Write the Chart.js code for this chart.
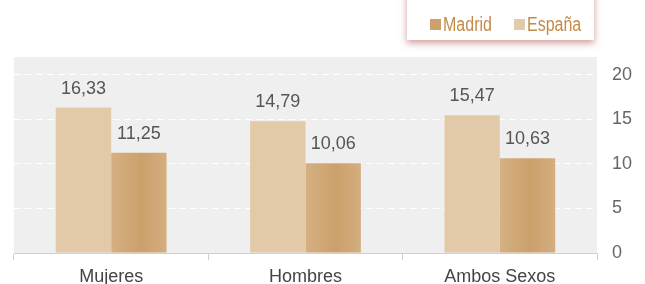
<!DOCTYPE html>
<html>
<head>
<meta charset="utf-8">
<script src="https://cdn.jsdelivr.net/npm/chart.js@4/dist/chart.umd.min.js"></script>
<style>
  html, body { margin: 0; padding: 0; background: #fff; }
  #wrap { width: 645px; height: 284px; position: relative; }
</style>
</head>
<body>
<div id="wrap"><canvas id="chart"></canvas></div>
<script>
// data
const categories = ['Mujeres', 'Hombres', 'Ambos Sexos'];
const espana = [16.33, 14.79, 15.47];
const madrid = [11.25, 10.06, 10.63];
const yTicks = [0, 5, 10, 15, 20];

const FONT = '"Helvetica Neue", Helvetica, "Liberation Sans", Arial, sans-serif';

function fmt(v) {
  return v.toFixed(2).replace('.', ',');
}

// grey panel behind the plot
const panelBg = {
  id: 'panelBg',
  beforeDraw(chart) {
    const a = chart.chartArea;
    const ctx = chart.ctx;
    ctx.save();
    ctx.fillStyle = '#efefef';
    ctx.fillRect(a.left, a.top, a.right - a.left, a.bottom - a.top);
    ctx.restore();
  }
};

// legend box at the top right, with its shadow
const legendBox = {
  id: 'legendBox',
  afterDraw(chart) {
    const ctx = chart.ctx;
    ctx.save();
    ctx.shadowColor = 'rgba(170, 70, 70, 0.55)';
    ctx.shadowBlur = 7;
    ctx.shadowOffsetY = 3;
    ctx.fillStyle = '#fff';
    ctx.fillRect(407, -10, 187, 50);
    ctx.restore();

    const items = [
      { label: 'Madrid', color: '#cda06c', x: 430 },
      { label: 'España', color: '#e3cba9', x: 514 }
    ];
    ctx.save();
    ctx.font = '20px ' + FONT;
    ctx.textBaseline = 'middle';
    items.forEach(it => {
      ctx.fillStyle = it.color;
      ctx.fillRect(it.x, 19, 11, 11);
      ctx.fillStyle = '#c48a47';
      // condensed look
      ctx.save();
      ctx.translate(it.x + 13, 25);
      ctx.scale(0.8, 1);
      ctx.fillText(it.label, 0, 0);
      ctx.restore();
    });
    ctx.restore();
  }
};

// gradient on the Madrid bars and value labels
const barExtras = {
  id: 'barExtras',
  beforeDatasetsDraw(chart) {
    const ctx = chart.ctx;
    chart.getDatasetMeta(1).data.forEach(el => {
      const x0 = el.x - el.width / 2;
      const g = ctx.createLinearGradient(x0, 0, x0 + el.width, 0);
      g.addColorStop(0, '#d5b083');
      g.addColorStop(0.55, '#cba06b');
      g.addColorStop(1, '#d4ae80');
      el.options = Object.assign({}, el.options, { backgroundColor: g });
    });
  },
  afterDatasetsDraw(chart) {
    const ctx = chart.ctx;
    ctx.save();
    ctx.font = '18px ' + FONT;
    ctx.fillStyle = '#555';
    ctx.textAlign = 'center';
    ctx.textBaseline = 'alphabetic';
    chart.data.datasets.forEach((ds, i) => {
      chart.getDatasetMeta(i).data.forEach((el, j) => {
        ctx.fillText(fmt(ds.data[j]), el.x, el.y - 14);
      });
    });
    ctx.restore();
  }
};

new Chart(document.getElementById('chart'), {
  type: 'bar',
  data: {
    labels: categories,
    datasets: [
      { label: 'España', data: espana, backgroundColor: '#e2caa9' },
      { label: 'Madrid', data: madrid, backgroundColor: '#cda06c' }
    ]
  },
  options: {
    responsive: true,
    maintainAspectRatio: false,
    animation: false,
    categoryPercentage: 0.57,
    barPercentage: 1,
    layout: { padding: { top: 57, left: 14, right: 0, bottom: 0 } },
    plugins: {
      legend: { display: false },
      tooltip: { enabled: false }
    },
    scales: {
      x: {
        afterFit(scale) {
          scale.height = 31;
        },
        grid: {
          offset: true,
          drawOnChartArea: false,
          drawTicks: true,
          tickLength: 7,
          color: '#cfcfcf'
        },
        border: { display: true, color: '#cfcfcf' },
        ticks: {
          color: '#444',
          font: { size: 18, family: FONT },
          padding: 6
        }
      },
      y: {
        position: 'right',
        min: 0,
        max: 22,
        afterBuildTicks(scale) {
          scale.ticks = yTicks.map(v => ({ value: v }));
        },
        afterFit(scale) {
          scale.width = 48;
        },
        grid: {
          color: ctx => ctx.tick && ctx.tick.value === 0 ? 'rgba(0,0,0,0)' : '#ffffff',
          drawTicks: false
        },
        border: { display: false, dash: [7, 4] },
        ticks: {
          color: '#666',
          font: { size: 18, family: FONT },
          padding: 15
        }
      }
    }
  },
  plugins: [panelBg, barExtras, legendBox]
});
</script>
</body>
</html>
